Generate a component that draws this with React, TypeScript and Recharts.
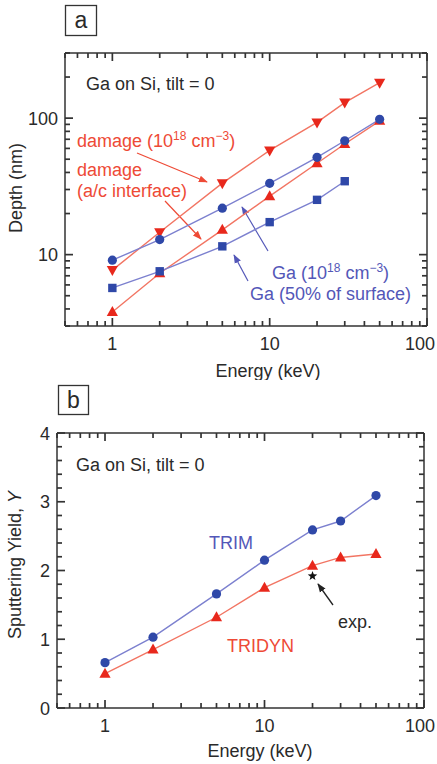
import React from 'react';
import { ComposedChart, Line, Scatter, XAxis, YAxis } from 'recharts';

// energies shared by every series (keV)
const energies = [1, 2, 5, 10, 20, 30, 50];

// panel a: depth (nm)
const damageConc = [7.7, 14.6, 33.4, 58, 93, 130, 182];
const damageInterface = [3.8, 7.3, 15.2, 26.8, 46.7, 64.6, 95.6];
const gaConc = [9.1, 12.9, 21.9, 33.3, 51.6, 68.3, 98];
const gaSurface = [5.7, 7.55, 11.5, 17.3, 25.2, 34.5];

// panel b: sputtering yield
const trimYield = [0.66, 1.03, 1.66, 2.15, 2.59, 2.72, 3.09];
const tridynYield = [0.5, 0.85, 1.32, 1.75, 2.07, 2.19, 2.24];
const expEnergy = [20];
const expYield = [1.92];

// ticks
const energyTicks = [0.5, 0.6, 0.7, 0.8, 0.9, 1, 2, 3, 4, 5, 6, 7, 8, 9, 10, 20, 30, 40, 50, 60, 70, 80, 90, 100];
const energyLabels = [1, 10, 100];
const depthTicks = [3, 4, 5, 6, 7, 8, 9, 10, 20, 30, 40, 50, 60, 70, 80, 90, 100, 200, 300];
const depthLabels = [10, 100];
const yieldTicks = [0, 0.2, 0.4, 0.6, 0.8, 1, 1.2, 1.4, 1.6, 1.8, 2, 2.2, 2.4, 2.6, 2.8, 3, 3.2, 3.4, 3.6, 3.8, 4];
const yieldLabels = [0, 1, 2, 3, 4];

const depthRows = energies.map((e, i) => ({
  energy: e,
  damageConc: damageConc[i],
  damageInterface: damageInterface[i],
  gaConc: gaConc[i],
  gaSurface: gaSurface[i],
}));
const yieldRows = energies.map((e, i) => ({ energy: e, trim: trimYield[i], tridyn: tridynYield[i] }));
const expRows = expEnergy.map((e, i) => ({ energy: e, exp: expYield[i] }));

const FONT = "'Liberation Sans', Arial, Helvetica, sans-serif";
const AXIS = '#333';
const TEXT = '#2a2a2a';
const RED_LINE = '#f27563';
const RED_MARK = '#e8281c';
const RED_TEXT = '#ee4a36';
const BLUE_LINE = '#7c80cf';
const BLUE_MARK = '#2f48a8';
const BLUE_TEXT = '#5357b8';

const W = 437;
// panel a geometry
const A_H = 380;
const A_MARGIN = { top: 53, right: 10, bottom: 0, left: 0 };
const A_YW = 65;
const A_XH = 54;
const A_PW = W - A_MARGIN.left - A_MARGIN.right - A_YW;
const A_PH = A_H - A_MARGIN.top - A_MARGIN.bottom - A_XH;
// panel b geometry
const B_H = 384;
const B_MARGIN = { top: 53, right: 13, bottom: 0, left: 0 };
const B_YW = 57;
const B_XH = 56;
const B_PW = W - B_MARGIN.left - B_MARGIN.right - B_YW;
const B_PH = B_H - B_MARGIN.top - B_MARGIN.bottom - B_XH;

// bottom axis tick, mirrored on the top edge; the first tick also draws the horizontal frame lines
function XTick(props: any) {
  const x = Number(props.x);
  const y = Number(props.y);
  const { payload, plotH, plotW, labels, index } = props;
  const v = payload.value;
  const major = labels.includes(v);
  const len = major ? 8 : 5;
  const atEdge = x + 16 > W;
  return (
    <g>
      {index === 0 && (
        <path d={`M${x},${y}H${x + plotW}M${x},${y - plotH}H${x + plotW}`} stroke={AXIS} strokeWidth={1.5} fill="none" />
      )}
      <line x1={x} y1={y} x2={x} y2={y - len} stroke={AXIS} strokeWidth={1.7} />
      <line x1={x} y1={y - plotH} x2={x} y2={y - plotH + len} stroke={AXIS} strokeWidth={1.7} />
      {major && (
        <text
          x={atEdge ? W - 2 : x}
          y={y + 23.5}
          textAnchor={atEdge ? 'end' : 'middle'}
          fontSize={18}
          fill={TEXT}
          stroke="none"
          fontFamily={FONT}
        >
          {v}
        </text>
      )}
    </g>
  );
}

// left axis tick, mirrored on the right edge; the first tick also draws the vertical frame lines
function YTick(props: any) {
  const x = Number(props.x);
  const y = Number(props.y);
  const { payload, plotW, plotH, labels, index } = props;
  const v = payload.value;
  const major = labels.includes(v);
  const len = major ? 8 : 5;
  return (
    <g>
      {index === 0 && (
        <path d={`M${x},${y}V${y - plotH}M${x + plotW},${y}V${y - plotH}`} stroke={AXIS} strokeWidth={1.5} fill="none" />
      )}
      <line x1={x} y1={y} x2={x + len} y2={y} stroke={AXIS} strokeWidth={1.7} />
      <line x1={x + plotW} y1={y} x2={x + plotW - len} y2={y} stroke={AXIS} strokeWidth={1.7} />
      {major && (
        <text x={x - 7} y={y + 6.5} textAnchor="end" fontSize={18} fill={TEXT} stroke="none" fontFamily={FONT}>
          {v}
        </text>
      )}
    </g>
  );
}

const missing = (p: any) => p.cx == null || p.cy == null || Number.isNaN(p.cy) || p.value == null;

const circleDot = (color: string) => (p: any) =>
  missing(p) ? <g key={p.index} /> : <circle key={p.index} cx={p.cx} cy={p.cy} r={4.6} fill={color} />;

const squareDot = (color: string) => (p: any) =>
  missing(p) ? <g key={p.index} /> : <rect key={p.index} x={p.cx - 4.2} y={p.cy - 4.2} width={8.4} height={8.4} fill={color} />;

const triUpDot = (color: string) => (p: any) =>
  missing(p) ? (
    <g key={p.index} />
  ) : (
    <path key={p.index} d={`M${p.cx},${p.cy - 6}L${p.cx + 5.6},${p.cy + 4}L${p.cx - 5.6},${p.cy + 4}Z`} fill={color} />
  );

const triDownDot = (color: string) => (p: any) =>
  missing(p) ? (
    <g key={p.index} />
  ) : (
    <path key={p.index} d={`M${p.cx},${p.cy + 6}L${p.cx + 5.6},${p.cy - 4}L${p.cx - 5.6},${p.cy - 4}Z`} fill={color} />
  );

function StarMark({ cx, cy }: any) {
  const pts: string[] = [];
  for (let k = 0; k < 10; k++) {
    const r = k % 2 === 0 ? 5 : 2.1;
    const a = -Math.PI / 2 + (k * Math.PI) / 5;
    pts.push(`${cx + r * Math.cos(a)},${cy + r * Math.sin(a)}`);
  }
  return <polygon points={pts.join(' ')} fill="#111" />;
}

function DepthChart() {
  return (
    <ComposedChart width={W} height={A_H} data={depthRows} margin={A_MARGIN}>
      <XAxis
        dataKey="energy"
        type="number"
        scale="log"
        domain={[0.5, 100]}
        allowDataOverflow
        ticks={energyTicks}
        interval={0}
        height={A_XH}
        axisLine={false}
        tickLine={false}
        tickSize={0}
        tickMargin={0}
        tick={(p: any) => <XTick {...p} plotH={A_PH} plotW={A_PW} labels={energyLabels} />}
        label={{
          content: () => (
            <text x={268} y={377} textAnchor="middle" fontSize={18} fill={TEXT} fontFamily={FONT}>
              Energy (keV)
            </text>
          ),
        }}
      />
      <YAxis
        type="number"
        scale="log"
        domain={[3, 300]}
        allowDataOverflow
        ticks={depthTicks}
        interval={0}
        width={A_YW}
        axisLine={false}
        tickLine={false}
        tickSize={0}
        tickMargin={0}
        tick={(p: any) => <YTick {...p} plotW={A_PW} plotH={A_PH} labels={depthLabels} />}
        label={{
          content: () => (
            <text x={22} y={188} transform="rotate(-90 22 188)" textAnchor="middle" fontSize={18} fill={TEXT} fontFamily={FONT}>
              Depth (nm)
            </text>
          ),
        }}
      />
      <Line dataKey="damageInterface" stroke={RED_LINE} strokeWidth={1.4} dot={triUpDot(RED_MARK)} isAnimationActive={false} />
      <Line dataKey="damageConc" stroke={RED_LINE} strokeWidth={1.4} dot={triDownDot(RED_MARK)} isAnimationActive={false} />
      <Line dataKey="gaSurface" stroke={BLUE_LINE} strokeWidth={1.4} dot={squareDot(BLUE_MARK)} isAnimationActive={false} />
      <Line dataKey="gaConc" stroke={BLUE_LINE} strokeWidth={1.4} dot={circleDot(BLUE_MARK)} isAnimationActive={false} />
    </ComposedChart>
  );
}

function YieldChart() {
  return (
    <ComposedChart width={W} height={B_H} data={yieldRows} margin={B_MARGIN}>
      <XAxis
        dataKey="energy"
        type="number"
        scale="log"
        domain={[0.5, 100]}
        allowDataOverflow
        ticks={energyTicks}
        interval={0}
        height={B_XH}
        axisLine={false}
        tickLine={false}
        tickSize={0}
        tickMargin={0}
        tick={(p: any) => <XTick {...p} plotH={B_PH} plotW={B_PW} labels={energyLabels} />}
        label={{
          content: () => (
            <text x={260} y={377} textAnchor="middle" fontSize={18} fill={TEXT} fontFamily={FONT}>
              Energy (keV)
            </text>
          ),
        }}
      />
      <YAxis
        type="number"
        domain={[0, 4]}
        allowDataOverflow
        ticks={yieldTicks}
        interval={0}
        width={B_YW}
        axisLine={false}
        tickLine={false}
        tickSize={0}
        tickMargin={0}
        tick={(p: any) => <YTick {...p} plotW={B_PW} plotH={B_PH} labels={yieldLabels} />}
        label={{
          content: () => (
            <text x={21} y={185} transform="rotate(-90 21 185)" textAnchor="middle" fontSize={18} fill={TEXT} fontFamily={FONT}>
              Sputtering Yield, <tspan fontStyle="italic">Y</tspan>
            </text>
          ),
        }}
      />
      <Line dataKey="tridyn" stroke={RED_LINE} strokeWidth={1.4} dot={triUpDot(RED_MARK)} isAnimationActive={false} />
      <Line dataKey="trim" stroke={BLUE_LINE} strokeWidth={1.4} dot={circleDot(BLUE_MARK)} isAnimationActive={false} />
      <Scatter data={expRows} dataKey="exp" shape={(p: any) => <StarMark cx={p.cx} cy={p.cy} />} isAnimationActive={false} />
    </ComposedChart>
  );
}

function Sup({ children, color }: any) {
  return (
    <tspan dy={-7} fontSize={12} fill={color}>
      {children}
    </tspan>
  );
}

function Annotations() {
  const arrow = (id: string, color: string) => (
    <marker id={id} viewBox="0 0 10 10" refX={9} refY={5} markerWidth={9} markerHeight={9} markerUnits="userSpaceOnUse" orient="auto">
      <path d="M0,1.2L10,5L0,8.8Z" fill={color} />
    </marker>
  );
  return (
    <svg width={W} height={764} style={{ position: 'absolute', left: 0, top: 0 }} fontFamily={FONT}>
      <defs>
        {arrow('arrRed', RED_TEXT)}
        {arrow('arrBlue', BLUE_TEXT)}
        {arrow('arrBlack', '#222')}
      </defs>

      {/* panel a */}
      <rect x={65.5} y={5.5} width={31} height={30} fill="none" stroke={AXIS} strokeWidth={1.3} />
      <text x={81} y={28} textAnchor="middle" fontSize={23} fill={TEXT}>a</text>
      <text x={86} y={90} fontSize={18} fill={TEXT}>Ga on Si, tilt = 0</text>
      <text x={77} y={147} fontSize={18} fill={RED_TEXT}>
        damage (10<Sup color={RED_TEXT}>18</Sup>
        <tspan dy={7}> cm</tspan>
        <Sup color={RED_TEXT}>−3</Sup>
        <tspan dy={7}>)</tspan>
      </text>
      <text x={77} y={176} fontSize={18} fill={RED_TEXT}>damage</text>
      <text x={77} y={197} fontSize={18} fill={RED_TEXT}>(a/c interface)</text>
      <line x1={137} y1={153} x2={207} y2={182} stroke={RED_TEXT} strokeWidth={1.2} markerEnd="url(#arrRed)" />
      <line x1={165} y1={201} x2={201} y2={239} stroke={RED_TEXT} strokeWidth={1.2} markerEnd="url(#arrRed)" />
      <text x={272} y={279} fontSize={18} fill={BLUE_TEXT}>
        Ga (10<Sup color={BLUE_TEXT}>18</Sup>
        <tspan dy={7}> cm</tspan>
        <Sup color={BLUE_TEXT}>−3</Sup>
        <tspan dy={7}>)</tspan>
      </text>
      <text x={250} y={300} fontSize={18} fill={BLUE_TEXT}>Ga (50% of surface)</text>
      <line x1={268} y1={251} x2={242} y2={207} stroke={BLUE_TEXT} strokeWidth={1.2} markerEnd="url(#arrBlue)" />
      <line x1={248} y1={281} x2={234} y2={255} stroke={BLUE_TEXT} strokeWidth={1.2} markerEnd="url(#arrBlue)" />

      {/* panel b */}
      <rect x={58.5} y={385.5} width={30} height={29} fill="none" stroke={AXIS} strokeWidth={1.3} />
      <text x={73.5} y={408} textAnchor="middle" fontSize={23} fill={TEXT}>b</text>
      <text x={76} y={471} fontSize={18} fill={TEXT}>Ga on Si, tilt = 0</text>
      <text x={209} y={549} fontSize={18} fill={BLUE_TEXT}>TRIM</text>
      <text x={227} y={652} fontSize={18} fill={RED_TEXT}>TRIDYN</text>
      <text x={338} y={628} fontSize={18} fill={TEXT}>exp.</text>
      <line x1={333} y1={605} x2={318} y2={584} stroke="#222" strokeWidth={1.3} markerEnd="url(#arrBlack)" />
    </svg>
  );
}

export default function App() {
  return (
    <div style={{ position: 'absolute', left: 0, top: 0, width: W, height: 764, background: '#fff', fontFamily: FONT }}>
      {/* annotations go underneath the charts, whose backgrounds are transparent */}
      <Annotations />
      <div style={{ position: 'absolute', left: 0, top: 0 }}>
        <DepthChart />
      </div>
      <div style={{ position: 'absolute', left: 0, top: 380 }}>
        <YieldChart />
      </div>
    </div>
  );
}
